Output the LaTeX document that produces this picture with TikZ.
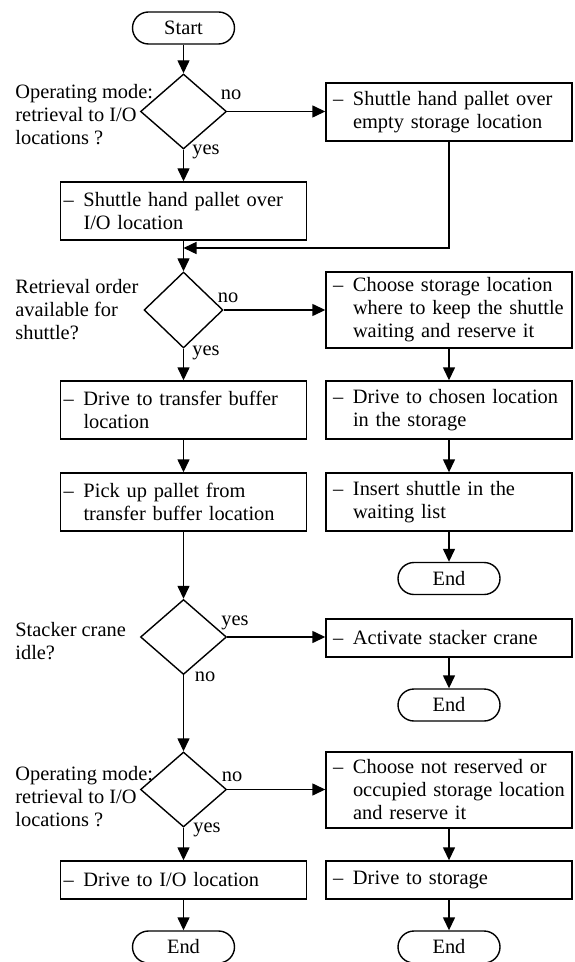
\documentclass[tikz,border=0pt]{standalone}
\usepackage{fontspec}
\setmainfont{Liberation Serif}
\usetikzlibrary{shapes.geometric,arrows.meta}
\newcommand\itm{\makebox[10pt][l]{–}}
\newcommand\ind{\hspace*{10pt}}
\begin{document}
\begin{tikzpicture}[x=0.5pt,y=-0.5pt,
  every node/.style={font=\fontsize{10.2}{11.5}\selectfont},
  lbox/.style={draw, line width=0.7pt, rectangle, inner ysep=0pt, inner xsep=1.5pt, minimum width=123pt, text width=120pt, align=left},
  rbox/.style={draw, line width=0.7pt, rectangle, inner ysep=0pt, inner xsep=3.5pt, minimum width=123pt, text width=116pt, align=left},
  hone/.style={minimum height=19pt},
  htwo/.style={minimum height=29pt},
  hthree/.style={minimum height=38pt},
  term/.style={draw, line width=0.7pt, rounded corners=8pt, minimum width=51pt, minimum height=16pt, inner sep=0pt},
  dec/.style={draw, line width=0.7pt, diamond, inner sep=0pt, minimum width=43pt, minimum height=37.5pt},
  decnarrow/.style={minimum width=39.5pt, minimum height=38pt},
  arr/.style={-{Triangle[length=6.5pt,width=6pt]}, line width=0.7pt},
  ann/.style={align=left, anchor=west, inner sep=0pt},
  lbl/.style={inner sep=0pt}
]
\useasboundingbox (0,0) rectangle (574,962);
\clip (0,0) rectangle (574,962);

\node[term] (start) at (183.5,28) {Start};
\node[dec] (d1) at (183.5,111.5) {};
\node[ann] (t1) at (15,115) {Operating mode:\\retrieval to I/O\\locations ?};
\node[rbox,htwo] (e1) at (449,112) {\itm Shuttle hand pallet over\\\ind empty storage location};
\node[lbox,htwo] (b1) at (183.5,211) {\itm Shuttle hand pallet over\\\ind I/O location};
\coordinate (j1) at (183.5,248);
\node[dec,decnarrow] (d2) at (183.5,310) {};
\node[ann] (t2) at (15,310) {Retrieval order\\available for\\shuttle?};
\node[rbox,hthree] (c1) at (449,310) {\itm Choose storage location\\\ind where to keep the shuttle\\\ind waiting and reserve it};
\node[lbox,htwo] (b2) at (183.5,410) {\itm Drive to transfer buffer\\\ind location};
\node[rbox,htwo] (c2) at (449,410) {\itm Drive to chosen location\\\ind in the storage};
\node[lbox,htwo] (b3) at (183.5,502) {\itm Pick up pallet from\\\ind transfer buffer location};
\node[rbox,htwo] (c3) at (449,502) {\itm Insert shuttle in the\\\ind waiting list};
\node[term] (end1) at (449,578.5) {End};
\node[dec] (d3) at (183.5,637) {};
\node[ann] (t3) at (15,641) {Stacker crane\\idle?};
\node[rbox,hone] (a1) at (449,638) {\itm Activate stacker crane};
\node[term] (end2) at (449,705) {End};
\node[dec] (d4) at (183.5,789.5) {};
\node[ann] (t4) at (15,797) {Operating mode:\\retrieval to I/O\\locations ?};
\node[rbox,hthree] (n1) at (449,790) {\itm Choose not reserved or\\\ind occupied storage location\\\ind and reserve it};
\node[lbox,hone] (l1) at (183.5,880) {\itm Drive to I/O location};
\node[rbox,hone] (n2) at (449,880) {\itm Drive to storage};
\node[term] (end3) at (183.5,947) {End};
\node[term] (end4) at (449,947) {End};

\node[lbl] (no1) at (231,95) {no};
\node[lbl] (yes1) at (206,152) {yes};
\node[lbl] (no2) at (228,298) {no};
\node[lbl] (yes2) at (206,353) {yes};
\node[lbl] (yes3) at (235,623) {yes};
\node[lbl] (no3) at (205,677) {no};
\node[lbl] (no4) at (232,777) {no};
\node[lbl] (yes4) at (207,830) {yes};

\draw[arr] (start) -- (d1);
\draw[arr] (d1.east) -- (d1.east -| e1.west);
\draw[arr] (d1) -- (b1);
\draw[arr] (b1) -- (d2);
\draw[arr] (e1.south) |- (j1);
\draw[arr] (d2.east) -- (d2.east -| c1.west);
\draw[arr] (d2) -- (b2);
\draw[arr] (b2) -- (b3);
\draw[arr] (c1) -- (c2);
\draw[arr] (c2) -- (c3);
\draw[arr] (c3) -- (end1);
\draw[arr] (b3) -- (d3);
\draw[arr] (d3.east) -- (d3.east -| a1.west);
\draw[arr] (a1) -- (end2);
\draw[arr] (d3) -- (d4);
\draw[arr] (d4.east) -- (d4.east -| n1.west);
\draw[arr] (n1) -- (n2);
\draw[arr] (n2) -- (end4);
\draw[arr] (d4) -- (l1);
\draw[arr] (l1) -- (end3);
\end{tikzpicture}
\end{document}
